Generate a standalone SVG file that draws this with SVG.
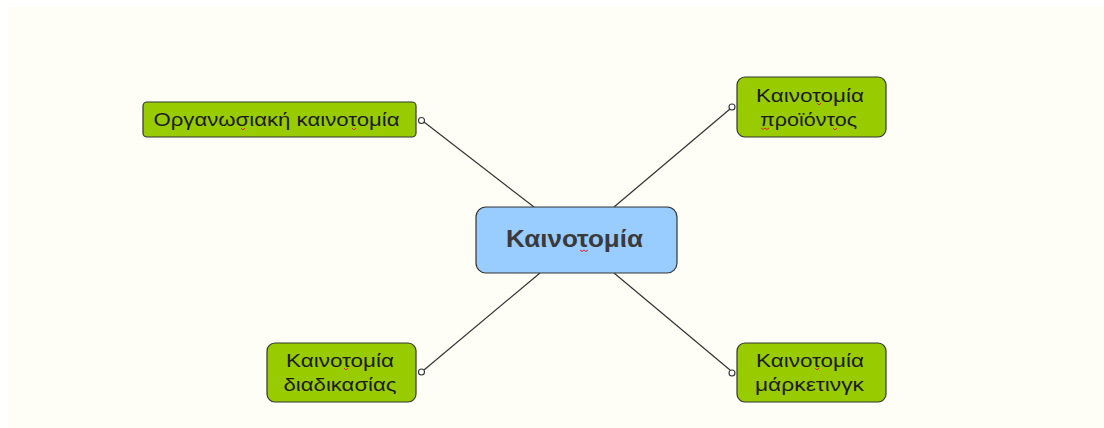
<svg xmlns="http://www.w3.org/2000/svg" width="1104" height="428" viewBox="0 0 1104 428">
<style>
.bg{fill:#fefef6}
.leaf{fill:#99cc00;stroke:#333;stroke-width:1.2}
.root{fill:#99ccff;stroke:#333;stroke-width:1.2}
.t{font-family:"Liberation Sans",Arial,sans-serif;font-size:18.5px;fill:#1a1a1a;text-anchor:middle}
.rt{font-family:"Liberation Sans",Arial,sans-serif;font-size:23px;font-weight:bold;fill:#3a3a3a;text-anchor:middle}
.ln{stroke:#333;stroke-width:1.2;fill:none}
.dot{fill:#fff;stroke:#333;stroke-width:1.1}
.sq{stroke:#e02020;stroke-width:1;fill:none}
</style>
<rect width="1104" height="428" fill="#ffffff"/>
<rect class="bg" x="8" y="7" width="1096" height="421"/>
<g id="connectors">
<line class="ln" x1="424" y1="122" x2="534" y2="207"/>
<line class="ln" x1="730" y1="109" x2="614" y2="207"/>
<line class="ln" x1="424" y1="370" x2="540" y2="273"/>
<line class="ln" x1="730" y1="370" x2="614" y2="273"/>
<circle class="dot" cx="421.5" cy="120.5" r="3"/>
<circle class="dot" cx="732" cy="107" r="3"/>
<circle class="dot" cx="421.5" cy="372" r="3"/>
<circle class="dot" cx="732" cy="373" r="3"/>
</g>
<g id="root">
<rect class="root" x="476" y="207" width="201" height="66" rx="10"/>
<text class="rt" x="574.5" y="247" textLength="137" lengthAdjust="spacingAndGlyphs">Καινοτομία</text>
<path class="sq" d="M580,250 l2,1.5 l2,-1.5 l2,1.5 l2,-1.5"/>
</g>
<g id="org">
<rect class="leaf" x="143" y="102" width="273" height="35" rx="4"/>
<text class="t" x="276.5" y="126" textLength="246" lengthAdjust="spacingAndGlyphs">Οργανωσιακή καινοτομία</text>
<path class="sq" d="M241,128 l2,2 l2,-2 M352,128 l2,2 l2,-2"/>
</g>
<g id="product">
<rect class="leaf" x="737" y="77" width="149" height="60" rx="8"/>
<text class="t" x="810" y="102" textLength="108" lengthAdjust="spacingAndGlyphs">Καινοτομία</text>
<text class="t" x="808.5" y="126" textLength="97" lengthAdjust="spacingAndGlyphs">προϊόντος</text>
<path class="sq" d="M817,103 l2,2 l2,-2 M761,128 l2,1.5 l2,-1.5 l2,1.5 l2,-1.5 M833,128 l2,2 l2,-2"/>
</g>
<g id="process">
<rect class="leaf" x="267" y="343" width="149" height="59" rx="8"/>
<text class="t" x="340" y="367" textLength="108" lengthAdjust="spacingAndGlyphs">Καινοτομία</text>
<text class="t" x="340" y="391" textLength="113" lengthAdjust="spacingAndGlyphs">διαδικασίας</text>
<path class="sq" d="M344,368 l2,2 l2,-2"/>
</g>
<g id="marketing">
<rect class="leaf" x="737" y="343" width="149" height="59" rx="8"/>
<text class="t" x="810" y="367" textLength="108" lengthAdjust="spacingAndGlyphs">Καινοτομία</text>
<text class="t" x="809.5" y="391" textLength="109" lengthAdjust="spacingAndGlyphs">μάρκετινγκ</text>
<path class="sq" d="M815,368 l2,2 l2,-2"/>
</g>
</svg>
